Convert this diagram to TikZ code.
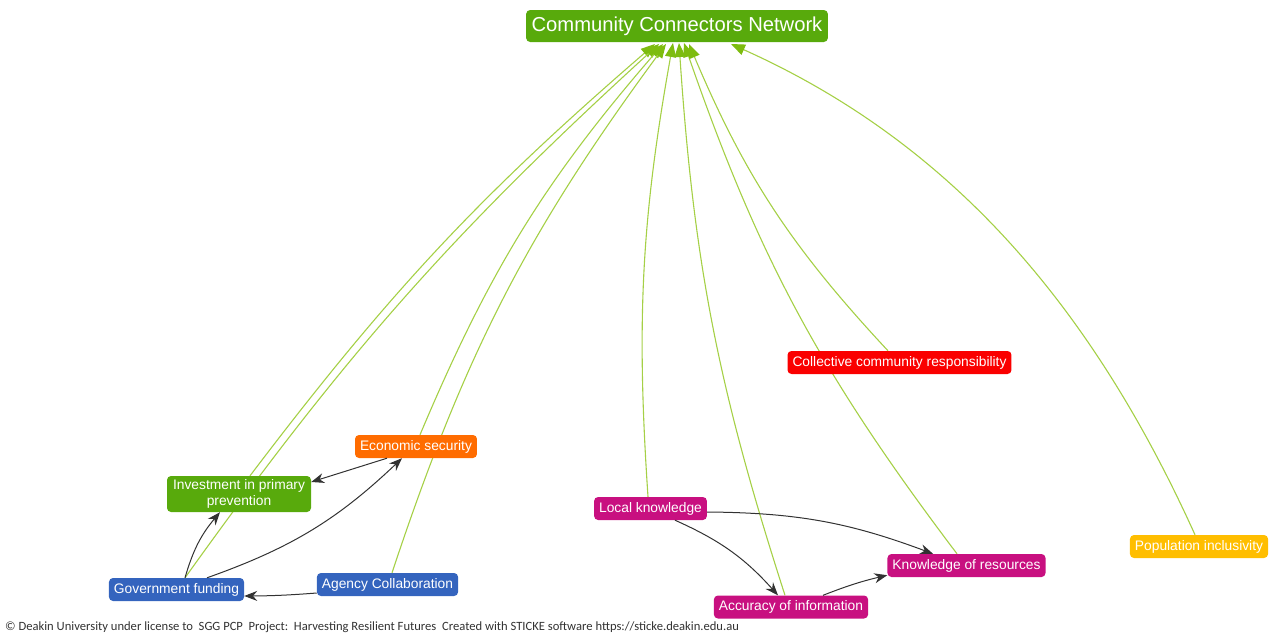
\documentclass[tikz,border=0pt]{standalone}
\usepackage{fontspec}
\setmainfont{Liberation Sans}
\newfontfamily\footfont{Carlito}
\usetikzlibrary{arrows.meta,backgrounds}
\definecolor{ngreen}{RGB}{88,170,12}
\definecolor{norange}{RGB}{255,108,0}
\definecolor{nblue}{RGB}{52,100,190}
\definecolor{nmag}{RGB}{200,16,128}
\definecolor{nred}{RGB}{250,0,0}
\definecolor{nyellow}{RGB}{255,190,0}
\definecolor{egreen}{RGB}{165,208,70}
\definecolor{agreen}{RGB}{125,188,15}
\definecolor{dk}{RGB}{50,50,50}
\tikzset{
  nd/.style={rounded corners=4pt, text=white, inner xsep=5pt, inner ysep=0pt,
    minimum height=23pt, font=\fontsize{13.8}{16}\selectfont},
  gl/.style={draw=egreen, line width=1.1pt, -{Triangle[length=14pt,width=11pt,color=agreen]}},
  bl/.style={draw=dk, line width=1pt, -{Stealth[length=13pt,width=10pt,color=dk]}},
}
\begin{document}
\begin{tikzpicture}[x=1pt,y=1pt]
\useasboundingbox (0,0) rectangle (1272,-632);
% nodes
\node[nd, fill=ngreen, minimum height=32pt, inner xsep=5.5pt, font=\fontsize{20.2}{24}\selectfont] (top) at (677,-26) {Community Connectors Network};
\node[nd, fill=norange] (econ) at (416,-446.5) {Economic security};
\node[nd, fill=ngreen, minimum height=36pt, minimum width=144pt, align=center, font=\fontsize{13.8}{16}\selectfont] (inv) at (239,-494) {Investment in primary\\prevention};
\node[nd, fill=nblue] (gov) at (176.5,-589.5) {Government funding};
\node[nd, fill=nblue] (agency) at (387.5,-584.5) {Agency Collaboration};
\node[nd, fill=nmag] (local) at (650.5,-508.5) {Local knowledge};
\node[nd, fill=nmag] (kres) at (966.5,-565.5) {Knowledge of resources};
\node[nd, fill=nmag] (acc) at (791,-607) {Accuracy of information};
\node[nd, fill=nred] (coll) at (899.5,-362.5) {Collective community responsibility};
\node[nd, fill=nyellow] (pop) at (1199,-546.5) {Population inclusivity};
% end points on the top node
\coordinate (t1) at (655,-44);
\coordinate (t2) at (659,-44);
\coordinate (t3) at (663,-44);
\coordinate (t4) at (666,-44);
\coordinate (t5) at (673,-43);
\coordinate (t6) at (679,-43);
\coordinate (t7) at (684,-43);
\coordinate (t8) at (689,-44);
\coordinate (t9) at (731,-44);
\begin{pgfonlayer}{background}
\draw[gl] ([xshift=11pt]inv.north) to[bend left=6] (t1);
\draw[gl] ([xshift=8.5pt]gov.north) to[bend left=6] (t2);
\draw[gl] ([xshift=4pt]econ.north) to[bend left=9] (t3);
\draw[gl] ([xshift=4.5pt]agency.north) to[bend left=9] (t4);
\draw[gl] ([xshift=-2.5pt]local.north) to[bend left=7] (t5);
\draw[gl] ([xshift=-6pt]acc.north) to[bend left=7] (t6);
\draw[gl] ([xshift=-9.5pt]kres.north) to[bend left=9] (t7);
\draw[gl] ([xshift=-11.5pt]coll.north) to[bend left=10] (t8);
\draw[gl] ([xshift=-4pt]pop.north) .. controls (1088,-298) and (945,-140) .. (t9);
\end{pgfonlayer}
% black connectors
\draw[bl] ([xshift=-29pt]econ.south) -- ([yshift=12pt]inv.east);
\draw[bl] ([xshift=30.5pt]gov.north) to[bend right=12] ([xshift=-14pt]econ.south);
\draw[bl] ([xshift=8.5pt]gov.north) to[bend left=12] ([xshift=-19pt]inv.south);
\draw[bl] ([yshift=-8.5pt]agency.west) to[bend left=2] ([yshift=-6.5pt]gov.east);
\draw[bl] ([xshift=24.5pt]local.south) to[bend left=12] ([xshift=-13pt]acc.north);
\draw[bl] ([yshift=-3.5pt]local.east) to[bend left=10] ([xshift=-33.5pt]kres.north);
\draw[bl] ([xshift=32pt]acc.north) to[bend left=4] ([yshift=2pt]kres.south west);
% footer
\node[anchor=base west, inner sep=0pt, text=dk, font=\footfont\fontsize{12.6}{14}\selectfont] (foot) at (5,-630) {© Deakin University under license to\ \ SGG PCP\ \ Project:\ \ Harvesting Resilient Futures\ \ Created with STICKE software https://sticke.deakin.edu.au};
\end{tikzpicture}
\end{document}
